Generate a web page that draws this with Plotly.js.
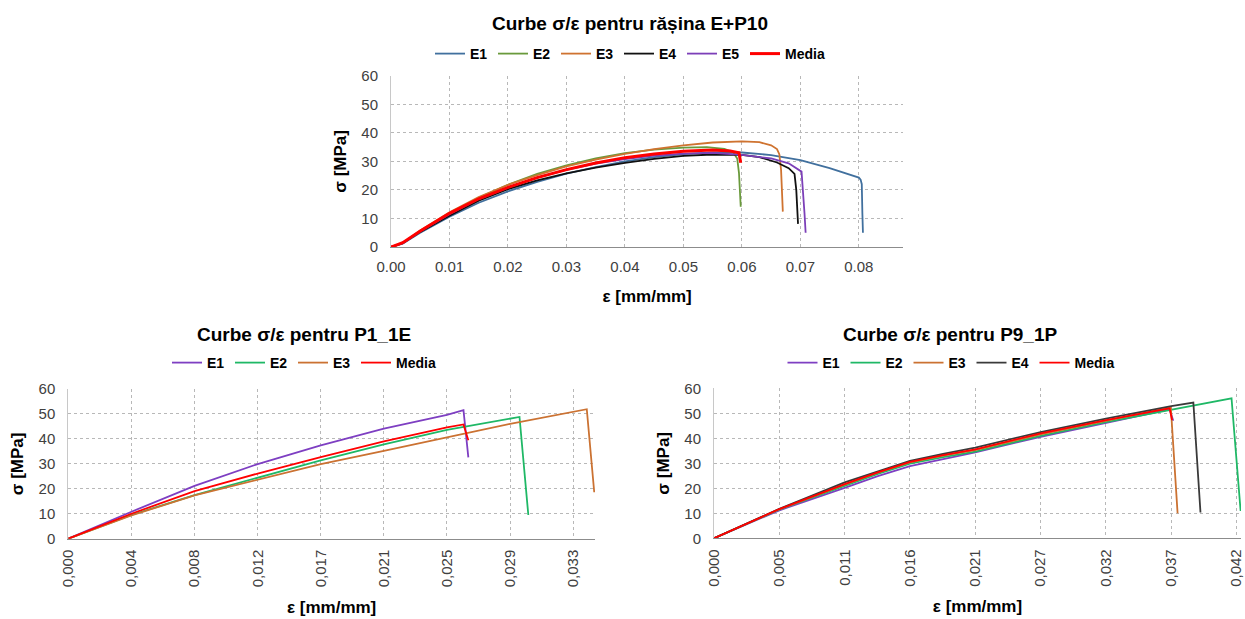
<!DOCTYPE html>
<html>
<head>
<meta charset="utf-8">
<script src="https://cdn.plot.ly/plotly-3.0.1.min.js"></script>
<style>html,body{margin:0;padding:0;background:#fff;}#chart{width:1245px;height:619px;}</style>
</head>
<body>
<div id="chart"></div>
<script>
// ---------- Chart 1: rășina E+P10 ----------
const topTitle = 'Curbe σ/ε pentru rășina E+P10';
const topNames = ['E1', 'E2', 'E3', 'E4', 'E5', 'Media'];
const topE1x = [0,0.002,0.005,0.01,0.015,0.02,0.025,0.03,0.035,0.04,0.045,0.05,0.055,0.06,0.065,0.07,0.075,0.08,0.0803,0.0805,0.0806,0.0807];
const topE1y = [0,1.2,5.0,10.6,15.5,19.5,22.8,25.7,28.0,30.0,31.5,32.5,33.1,33.1,32.2,30.4,27.6,24.3,23.6,22.0,12,5.0];
const topE2x = [0,0.002,0.005,0.01,0.015,0.02,0.025,0.03,0.035,0.04,0.045,0.05,0.054,0.057,0.0585,0.0592,0.0595,0.0597,0.0598];
const topE2y = [0,1.4,5.6,11.8,17.2,21.8,25.6,28.6,31.0,32.9,34.1,34.8,35.0,34.4,33.2,31.0,26,19,14.1];
const topE3x = [0,0.002,0.005,0.01,0.015,0.02,0.025,0.03,0.035,0.04,0.045,0.05,0.055,0.06,0.063,0.065,0.066,0.0664,0.0667,0.0668,0.0670];
const topE3y = [0,1.4,5.8,12.2,17.5,21.8,25.2,28.2,30.6,32.6,34.3,35.6,36.6,37.0,36.7,35.6,34.3,32.5,27,20,12.4];
const topE4x = [0,0.002,0.005,0.01,0.015,0.02,0.025,0.03,0.035,0.04,0.045,0.05,0.055,0.06,0.063,0.066,0.068,0.069,0.0693,0.0695,0.0696];
const topE4y = [0,1.3,5.3,11.0,16.2,20.3,23.3,25.8,27.8,29.5,30.9,31.9,32.4,32.3,31.5,29.6,27.6,25.6,20,13,8.1];
const topE5x = [0,0.002,0.005,0.01,0.015,0.02,0.025,0.03,0.035,0.04,0.045,0.05,0.055,0.06,0.065,0.068,0.0702,0.0705,0.0707,0.0709];
const topE5y = [0,1.3,5.5,11.5,16.8,20.8,24.3,27.0,29.2,30.8,32.0,32.7,33.0,32.3,31.0,29.3,26.4,19,12,5.0];
const topMx = [0,0.002,0.005,0.01,0.015,0.02,0.025,0.03,0.035,0.04,0.045,0.05,0.055,0.058,0.0595,0.0598];
const topMy = [0,1.5,5.6,11.8,16.9,20.9,24.3,27.1,29.4,31.3,32.6,33.5,34.0,33.6,33.0,29.5];
const topColors = ['#41709e', '#6a9a3c', '#cf7330', '#111111', '#7c3fb8', '#ff0000'];

// ---------- Chart 2: P1_1E ----------
const p1Title = 'Curbe σ/ε pentru P1_1E';
const p1Names = ['E1', 'E2', 'E3', 'Media'];
const p1Step = 0.004146;
const p1TickLabels = ['0,000','0,004','0,008','0,012','0,017','0,021','0,025','0,029','0,033'];
const p1E1x = [0,0.004146,0.008292,0.012438,0.016584,0.02073,0.024876,0.02596,0.02628];
const p1E1y = [0,10.8,21.2,29.9,37.4,44.1,49.6,51.5,32.6];
const p1E2x = [0,0.004146,0.008292,0.012438,0.016584,0.02073,0.024876,0.02964,0.03022];
const p1E2y = [0,9.5,17.5,24.6,31.4,37.8,43.6,48.8,9.5];
const p1E3x = [0,0.004146,0.008292,0.012438,0.016584,0.02073,0.024876,0.029022,0.03406,0.03455];
const p1E3y = [0,9.3,17.4,23.8,29.9,35.2,40.5,46.0,51.9,18.6];
const p1Mx = [0,0.004146,0.008292,0.012438,0.016584,0.02073,0.024876,0.02596,0.02628];
const p1My = [0,10.0,19.1,26.1,32.7,39.0,44.6,45.8,39.5];
const p1Colors = ['#7e3fc2', '#1fb866', '#cb7232', '#ff0000'];

// ---------- Chart 3: P9_1P ----------
const p9Title = 'Curbe σ/ε pentru P9_1P';
const p9Names = ['E1', 'E2', 'E3', 'E4', 'Media'];
const p9Step = 0.005305;
const p9TickLabels = ['0,000','0,005','0,011','0,016','0,021','0,027','0,032','0,037','0,042'];
const p9E1x = [0,0.005305,0.01061,0.0133,0.015915,0.0186,0.02122,0.026525,0.03183,0.037,0.0373];
const p9E1y = [0,11.2,20.2,24.9,28.9,31.8,34.4,40.6,46.3,51.6,47.0];
const p9E2x = [0,0.005305,0.01061,0.0133,0.015915,0.0186,0.02122,0.026525,0.03183,0.037135,0.04203,0.04277];
const p9E2y = [0,11.5,21.0,25.8,29.9,32.5,34.7,41.0,46.5,51.3,56.0,10.9];
const p9E3x = [0,0.005305,0.01061,0.0133,0.015915,0.0186,0.02122,0.026525,0.03183,0.0371,0.03765];
const p9E3y = [0,11.6,21.5,26.3,30.4,33.1,35.3,41.6,47.0,52.4,10.0];
const p9E4x = [0,0.005305,0.01061,0.0128,0.015915,0.0186,0.02122,0.026525,0.03183,0.037135,0.03893,0.03951];
const p9E4y = [0,11.8,22.4,25.9,31.0,33.8,36.3,42.5,47.9,52.9,54.3,10.3];
const p9Mx = [0,0.005305,0.01061,0.0133,0.015915,0.0186,0.02122,0.026525,0.03183,0.0370,0.0372];
const p9My = [0,11.7,21.7,26.4,30.6,33.3,35.6,42.0,47.3,52.0,47.3];
const p9Colors = ['#7e3fc2', '#1fb866', '#cb7232', '#3a3a3a', '#ff0000'];

const FONT = 'Liberation Sans, Arial, sans-serif';
const W = 1245, H = 619;
const px = v => v / W;
const py = v => 1 - v / H;

function mk(x, y, name, color, xa, ya, leg, width) {
  return {x: x, y: y, name: name, type: 'scatter', mode: 'lines',
    line: {color: color, width: width || 2}, xaxis: xa, yaxis: ya, legend: leg,
    legendwidth: name === 'Media' ? 42 : 18,
    hoverinfo: 'x+y+name'};
}

const traces = [];
const topX = [topE1x, topE2x, topE3x, topE4x, topE5x, topMx];
const topY = [topE1y, topE2y, topE3y, topE4y, topE5y, topMy];
topNames.forEach((n, i) => traces.push(mk(topX[i], topY[i], n, topColors[i], 'x', 'y', 'legend', n === 'Media' ? 3 : 1.8)));
const p1X = [p1E1x, p1E2x, p1E3x, p1Mx];
const p1Y = [p1E1y, p1E2y, p1E3y, p1My];
p1Names.forEach((n, i) => traces.push(mk(p1X[i], p1Y[i], n, p1Colors[i], 'x2', 'y2', 'legend2', 1.8)));
const p9X = [p9E1x, p9E2x, p9E3x, p9E4x, p9Mx];
const p9Y = [p9E1y, p9E2y, p9E3y, p9E4y, p9My];
p9Names.forEach((n, i) => traces.push(mk(p9X[i], p9Y[i], n, p9Colors[i], 'x3', 'y3', 'legend3', 1.8)));

const tickFont = {family: FONT, size: 15, color: '#404040'};
const axTitleFont = {family: FONT, size: 17, color: '#000', weight: 'bold'};
function xAxis(domain, anchor, range, extra) {
  return Object.assign({domain: domain, anchor: anchor, range: range,
    showgrid: true, gridcolor: '#b8b8b8', griddash: 'dot', gridwidth: 1,
    showline: true, linecolor: '#8c8c8c', linewidth: 1, zeroline: false,
    ticks: '', tickfont: tickFont}, extra);
}
function yAxis(domain, anchor) {
  return {domain: domain, anchor: anchor, range: [0, 60], dtick: 10, tick0: 0,
    showgrid: true, gridcolor: '#b8b8b8', griddash: 'dot', gridwidth: 1,
    showline: true, linecolor: '#c8c8c8', linewidth: 1, zeroline: false,
    ticks: '', tickfont: tickFont, ticklabelstandoff: 9,
    title: {text: 'σ [MPa]', font: axTitleFont, standoff: 10}};
}

const legFont = {family: FONT, size: 14, color: '#000', weight: 'bold'};
function legend(x, y) {
  return {x: x, y: y, xanchor: 'center', yanchor: 'middle', orientation: 'h',
    font: legFont, bgcolor: 'rgba(0,0,0,0)', itemwidth: 30, tracegroupgap: 0};
}
const titleFont = {family: FONT, size: 19, color: '#000', weight: 'bold'};

const layout = {
  width: W, height: H,
  margin: {l: 0, r: 0, t: 0, b: 0},
  paper_bgcolor: '#fff', plot_bgcolor: '#fff',
  font: {family: FONT},
  showlegend: true,
  xaxis: xAxis([px(391), px(903.3)], 'y', [0, 0.0876],
    {dtick: 0.01, tick0: 0, tickformat: '.2f', ticklabelstandoff: 6,
     title: {text: 'ε [mm/mm]', font: axTitleFont, standoff: 16}}),
  yaxis: yAxis([py(247), py(75.7)], 'x'),
  xaxis2: xAxis([px(68.3), px(595)], 'y2', [0, 0.0346],
    {tickmode: 'array', tickvals: p1TickLabels.map((_, i) => i * p1Step), ticktext: p1TickLabels,
     tickangle: -90, ticklabelstandoff: 4, title: {text: 'ε [mm/mm]', font: axTitleFont, standoff: 14}}),
  yaxis2: yAxis([py(538.7), py(389)], 'x2'),
  xaxis3: xAxis([px(714), px(1241)], 'y3', [0, 0.0428],
    {tickmode: 'array', tickvals: p9TickLabels.map((_, i) => i * p9Step), ticktext: p9TickLabels,
     tickangle: -90, ticklabelstandoff: 4, title: {text: 'ε [mm/mm]', font: axTitleFont, standoff: 14}}),
  yaxis3: yAxis([py(538.3), py(388.3)], 'x3'),
  legend: legend(px(631), py(54)),
  legend2: legend(px(305), py(363)),
  legend3: legend(px(952), py(363)),
  annotations: [
    {text: topTitle, x: px(630), y: py(23), xref: 'paper', yref: 'paper', showarrow: false,
     xanchor: 'center', yanchor: 'middle', font: titleFont},
    {text: p1Title, x: px(304), y: py(334), xref: 'paper', yref: 'paper', showarrow: false,
     xanchor: 'center', yanchor: 'middle', font: titleFont},
    {text: p9Title, x: px(950), y: py(334), xref: 'paper', yref: 'paper', showarrow: false,
     xanchor: 'center', yanchor: 'middle', font: titleFont}
  ]
};

Plotly.newPlot('chart', traces, layout, {displayModeBar: false, staticPlot: true});
</script>
</body>
</html>
